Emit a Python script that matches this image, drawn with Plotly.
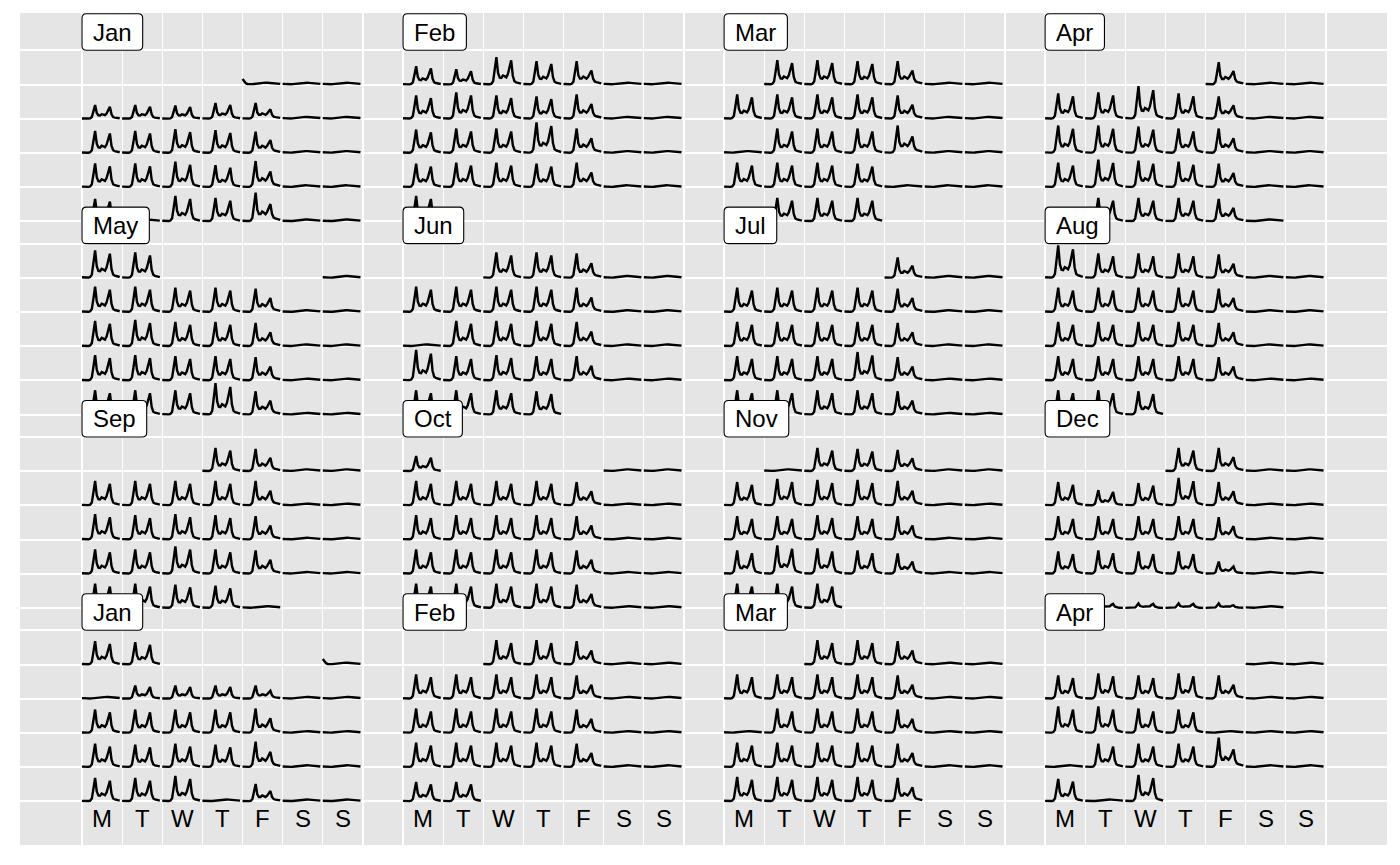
import datetime as dt
import plotly.graph_objects as go

# ---------------- data ----------------
MONTHS = [(2016, m) for m in range(1, 13)] + [(2017, m) for m in range(1, 5)]
MONTH_LABELS = ["Jan", "Feb", "Mar", "Apr", "May", "Jun", "Jul", "Aug",
                "Sep", "Oct", "Nov", "Dec", "Jan", "Feb", "Mar", "Apr"]
WEEKDAY_LABELS = ["M", "T", "W", "T", "F", "S", "S"]

# weekday public holidays (flat profile) and New Year's days (late-night hook)
HOLIDAYS = ["2016-01-26", "2016-03-14", "2016-03-25", "2016-03-28", "2016-04-25",
            "2016-06-13", "2016-09-30", "2016-11-01", "2016-12-26", "2017-01-02",
            "2017-01-26", "2017-03-13", "2017-04-14", "2017-04-17", "2017-04-25"]
NEW_YEAR_DAYS = ["2016-01-01", "2017-01-01"]

# hourly shapes (hour 0..23), relative to each day's level
WEEKDAY_SHAPE = [0.02, 0.01, 0.01, 0.01, 0.01, 0.03, 0.12, 0.55, 1.00, 0.42, 0.25, 0.24,
                 0.33, 0.30, 0.26, 0.38, 0.68, 0.88, 0.32, 0.12, 0.08, 0.06, 0.05, 0.03]
FRIDAY_SHAPE = [0.02, 0.01, 0.01, 0.01, 0.01, 0.03, 0.12, 0.55, 1.00, 0.40, 0.25, 0.25,
                0.34, 0.30, 0.25, 0.33, 0.50, 0.60, 0.25, 0.13, 0.10, 0.08, 0.07, 0.05]
FLAT_SHAPE = [0.33, 0.22, 0.17, 0.11, 0.11, 0.14, 0.19, 0.31, 0.44, 0.61, 0.78, 0.89,
              0.97, 1.00, 1.00, 0.97, 0.92, 0.83, 0.72, 0.61, 0.53, 0.47, 0.42, 0.36]
NEW_YEAR_SHAPE = [3.00, 1.50, 0.70, 0.30, 0.15, 0.14, 0.19, 0.31, 0.44, 0.61, 0.78, 0.89,
                  0.97, 1.00, 1.00, 0.97, 0.92, 0.83, 0.72, 0.61, 0.53, 0.47, 0.42, 0.36]

# daily level (peak hourly count) for each day of each month
JAN_2016 = [180, 180, 180,
            1350, 1350, 1300, 1550, 1550, 180, 180,
            2170, 2170, 2330, 2230, 2100, 180, 180,
            2330, 2330, 2500, 2170, 2570, 180, 180,
            2200, 180, 2500, 2300, 2830, 180, 180]
FEB_2016 = [1800, 1500, 2700, 2300, 2300, 180, 180,
            2300, 2600, 2300, 2200, 2400, 180, 180,
            2300, 2400, 2400, 3000, 2400, 180, 180,
            2300, 2400, 2400, 2300, 2400, 180, 180,
            2500]
MAR_2016 = [2400, 2400, 2300, 2300, 180, 180,
            2400, 2400, 2400, 2400, 2300, 180, 180,
            180, 2400, 2400, 2400, 2700, 180, 180,
            2400, 2400, 2400, 2300, 180, 180, 180,
            180, 2300, 2300, 2300]
APR_2016 = [2200, 180, 180,
            2500, 2600, 3200, 2500, 2200, 180, 180,
            2700, 2700, 2600, 2400, 2400, 180, 180,
            2400, 2700, 2600, 2500, 2300, 180, 180,
            180, 2300, 2300, 2300, 2200, 180]
MAY_2016 = [180,
            2500, 2500, 2400, 2400, 2300, 180, 180,
            2500, 2600, 2400, 2400, 2300, 180, 180,
            2500, 2500, 2400, 2400, 2300, 180, 180,
            2400, 2400, 2400, 3100, 2300, 180, 180,
            2700, 2500]
JUN_2016 = [2500, 2500, 2400, 180, 180,
            2500, 2500, 2500, 2500, 2400, 180, 180,
            180, 2500, 2500, 2500, 2400, 180, 180,
            3000, 2400, 2500, 2400, 2400, 180, 180,
            2400, 2400, 2400, 2300]
JUL_2016 = [2000, 180, 180,
            2400, 2400, 2400, 2400, 2300, 180, 180,
            2400, 2400, 2400, 2400, 2300, 180, 180,
            2400, 2400, 2400, 2800, 2300, 180, 180,
            2400, 2400, 2400, 2400, 2300, 180, 180]
AUG_2016 = [3200, 2400, 2400, 2400, 2300, 180, 180,
            2400, 2400, 2400, 2400, 2300, 180, 180,
            2400, 2400, 2400, 2400, 2300, 180, 180,
            2400, 2400, 2400, 2400, 2300, 180, 180,
            2400, 2400, 2300]
SEP_2016 = [2300, 2200, 180, 180,
            2400, 2400, 2400, 2400, 2400, 180, 180,
            2500, 2400, 2500, 2400, 2300, 180, 180,
            2400, 2400, 2700, 2400, 2300, 180, 180,
            2400, 2400, 2300, 2200, 180]
OCT_2016 = [180, 180,
            2400, 2400, 2400, 2400, 2300, 180, 180,
            2400, 2400, 2400, 2400, 2300, 180, 180,
            2400, 2400, 2400, 2400, 2300, 180, 180,
            2400, 2400, 2400, 2400, 2300, 180, 180,
            1500]
NOV_2016 = [180, 2300, 2200, 2100, 180, 180,
            2300, 2600, 2500, 2500, 2400, 180, 180,
            2300, 2300, 2400, 2300, 2300, 180, 180,
            2300, 2800, 2500, 2300, 2000, 180, 180,
            2400, 2400, 2400]
DEC_2016 = [2300, 2300, 180, 180,
            2300, 1500, 2200, 2700, 2300, 180, 180,
            2300, 2300, 2300, 2300, 2200, 180, 180,
            2200, 2300, 2200, 2200, 1200, 180, 180,
            180, 450, 450, 450, 450, 180]
JAN_2017 = [180,
            180, 1300, 1300, 1300, 1300, 180, 180,
            2300, 2300, 2300, 2300, 2400, 180, 180,
            2300, 2200, 2300, 2200, 2500, 180, 180,
            2300, 2300, 2500, 180, 1700, 180, 180,
            2300, 2200]
FEB_2017 = [2400, 2400, 2300, 180, 180,
            2400, 2400, 2400, 2400, 2300, 180, 180,
            2400, 2400, 2400, 2400, 2300, 180, 180,
            2400, 2400, 2400, 2400, 2300, 180, 180,
            1900, 1900]
MAR_2017 = [2400, 2400, 2300, 180, 180,
            2400, 2400, 2400, 2400, 2300, 180, 180,
            180, 2400, 2400, 2400, 2300, 180, 180,
            2400, 2400, 2400, 2400, 2300, 180, 180,
            2400, 2400, 2400, 2400, 2300]
APR_2017 = [180, 180,
            2300, 2500, 2300, 2500, 2300, 180, 180,
            2600, 2600, 2400, 2300, 180, 180, 180,
            180, 2300, 2300, 2300, 2900, 180, 180,
            2200, 180, 2600]

DAILY_LEVELS = [JAN_2016, FEB_2016, MAR_2016, APR_2016, MAY_2016, JUN_2016,
                JUL_2016, AUG_2016, SEP_2016, OCT_2016, NOV_2016, DEC_2016,
                JAN_2017, FEB_2017, MAR_2017, APR_2017]

# ---------------- layout constants ----------------
GRID_COLS = 4
GAP_COLS = 1            # empty column between month blocks
BLOCK_STEP = 5.653      # vertical distance between month blocks (row units)
DAY_SPAN = 0.94         # fraction of a cell used by a day's 24 hours
CURVE_MAX = 0.95        # height (rows) of the largest count
FONT = "Liberation Sans, Arial, sans-serif"
BG = "#e5e5e5"

# ---------------- build day curves ----------------
holidays = set(HOLIDAYS)
new_years = set(NEW_YEAR_DAYS)
days = []
for mi, (yr, mo) in enumerate(MONTHS):
    first_wd = dt.date(yr, mo, 1).weekday()
    gr, gc = divmod(mi, GRID_COLS)
    x_off = gc * (7 + GAP_COLS)
    top = gr * BLOCK_STEP
    for d, level in enumerate(DAILY_LEVELS[mi], start=1):
        date = dt.date(yr, mo, d)
        iso = date.isoformat()
        wd = date.weekday()
        row = (d - 1 + first_wd) // 7
        if row == 5:
            row = 0
        if iso in new_years:
            shape = NEW_YEAR_SHAPE
        elif wd >= 5 or iso in holidays:
            shape = FLAT_SHAPE
        elif wd == 4:
            shape = FRIDAY_SHAPE
        else:
            shape = WEEKDAY_SHAPE
        counts = [level * s for s in shape]
        days.append((x_off + wd, top + row + 1, counts))

max_count = max(max(c) for _, _, c in days)
xs, ys = [], []
for col, base, counts in days:
    for h, c in enumerate(counts):
        xs.append(col + h / 23 * DAY_SPAN)
        ys.append(base - c / max_count * CURVE_MAX)
    xs.append(None)
    ys.append(None)

fig = go.Figure()
fig.add_trace(go.Scatter(x=xs, y=ys, mode="lines", line=dict(color="black", width=2.4),
                         hoverinfo="skip", showlegend=False, connectgaps=False))

# ---------------- grid ----------------
n_rows = (len(MONTHS) + GRID_COLS - 1) // GRID_COLS
major_x, minor_x = [], []
for gc in range(GRID_COLS):
    x0 = gc * (7 + GAP_COLS)
    major_x += [x0, x0 + 7]
    minor_x += [x0 + i for i in range(1, 7)]
grid_y = [gr * BLOCK_STEP + k for gr in range(n_rows) for k in range(6)]

# ---------------- month labels (rounded boxes) ----------------
CHAR_W = {"J": 0.5, "a": 0.556, "n": 0.556, "F": 0.611, "e": 0.556, "b": 0.556,
          "M": 0.833, "r": 0.333, "A": 0.667, "p": 0.556, "y": 0.5, "u": 0.556,
          "l": 0.222, "g": 0.556, "S": 0.667, "O": 0.778, "c": 0.5, "t": 0.278,
          "N": 0.722, "o": 0.556, "v": 0.5, "D": 0.722}
LABEL_FS = 24
BOX_H = 36.5
R = 4.5

def rounded_path(w, h, r):
    return (f"M {r},0 L {w - r},0 Q {w},0 {w},{r} L {w},{h - r} Q {w},{h} {w - r},{h} "
            f"L {r},{h} Q 0,{h} 0,{h - r} L 0,{r} Q 0,0 {r},0 Z")

shapes, annotations = [], []
for mi, lab in enumerate(MONTH_LABELS):
    gr, gc = divmod(mi, GRID_COLS)
    x0 = gc * (7 + GAP_COLS)
    top = gr * BLOCK_STEP
    w = sum(CHAR_W.get(ch, 0.55) for ch in lab) * LABEL_FS + 22
    shapes.append(dict(type="path", xref="x", yref="y", xsizemode="pixel",
                       ysizemode="pixel", xanchor=x0, yanchor=top,
                       path=rounded_path(w, BOX_H, R), fillcolor="white",
                       line=dict(color="black", width=1.1), layer="above"))
    annotations.append(dict(x=x0, y=top, xref="x", yref="y", text=lab, showarrow=False,
                            xshift=w / 2, yshift=BOX_H / 2, xanchor="center",
                            yanchor="middle", font=dict(family=FONT, size=LABEL_FS,
                                                        color="black")))

bottom_base = (n_rows - 1) * BLOCK_STEP + 5
for gc in range(GRID_COLS):
    x0 = gc * (7 + GAP_COLS)
    for i, lab in enumerate(WEEKDAY_LABELS):
        annotations.append(dict(x=x0 + i + 0.5, y=bottom_base + 0.5, xref="x", yref="y",
                                text=lab, showarrow=False, xanchor="center",
                                yanchor="middle",
                                font=dict(family=FONT, size=24, color="black")))

fig.update_layout(
    width=1400, height=865,
    margin=dict(l=20, r=13, t=13, b=20, pad=0),
    paper_bgcolor="white", plot_bgcolor=BG,
    shapes=shapes, annotations=annotations, showlegend=False,
    xaxis=dict(range=[-1.545, 32.52], tickmode="array", tickvals=major_x,
               showticklabels=False, ticks="", showgrid=True, gridcolor="white",
               gridwidth=2, zeroline=False, showline=False, fixedrange=True,
               minor=dict(tickmode="array", tickvals=minor_x, showgrid=True,
                          gridcolor="white", gridwidth=1.3, ticks="")),
    yaxis=dict(range=[23.237, -1.091], tickmode="array", tickvals=grid_y,
               showticklabels=False, ticks="", showgrid=True, gridcolor="white",
               gridwidth=1.6, zeroline=False, showline=False, fixedrange=True),
)

fig.write_html("out.html")
